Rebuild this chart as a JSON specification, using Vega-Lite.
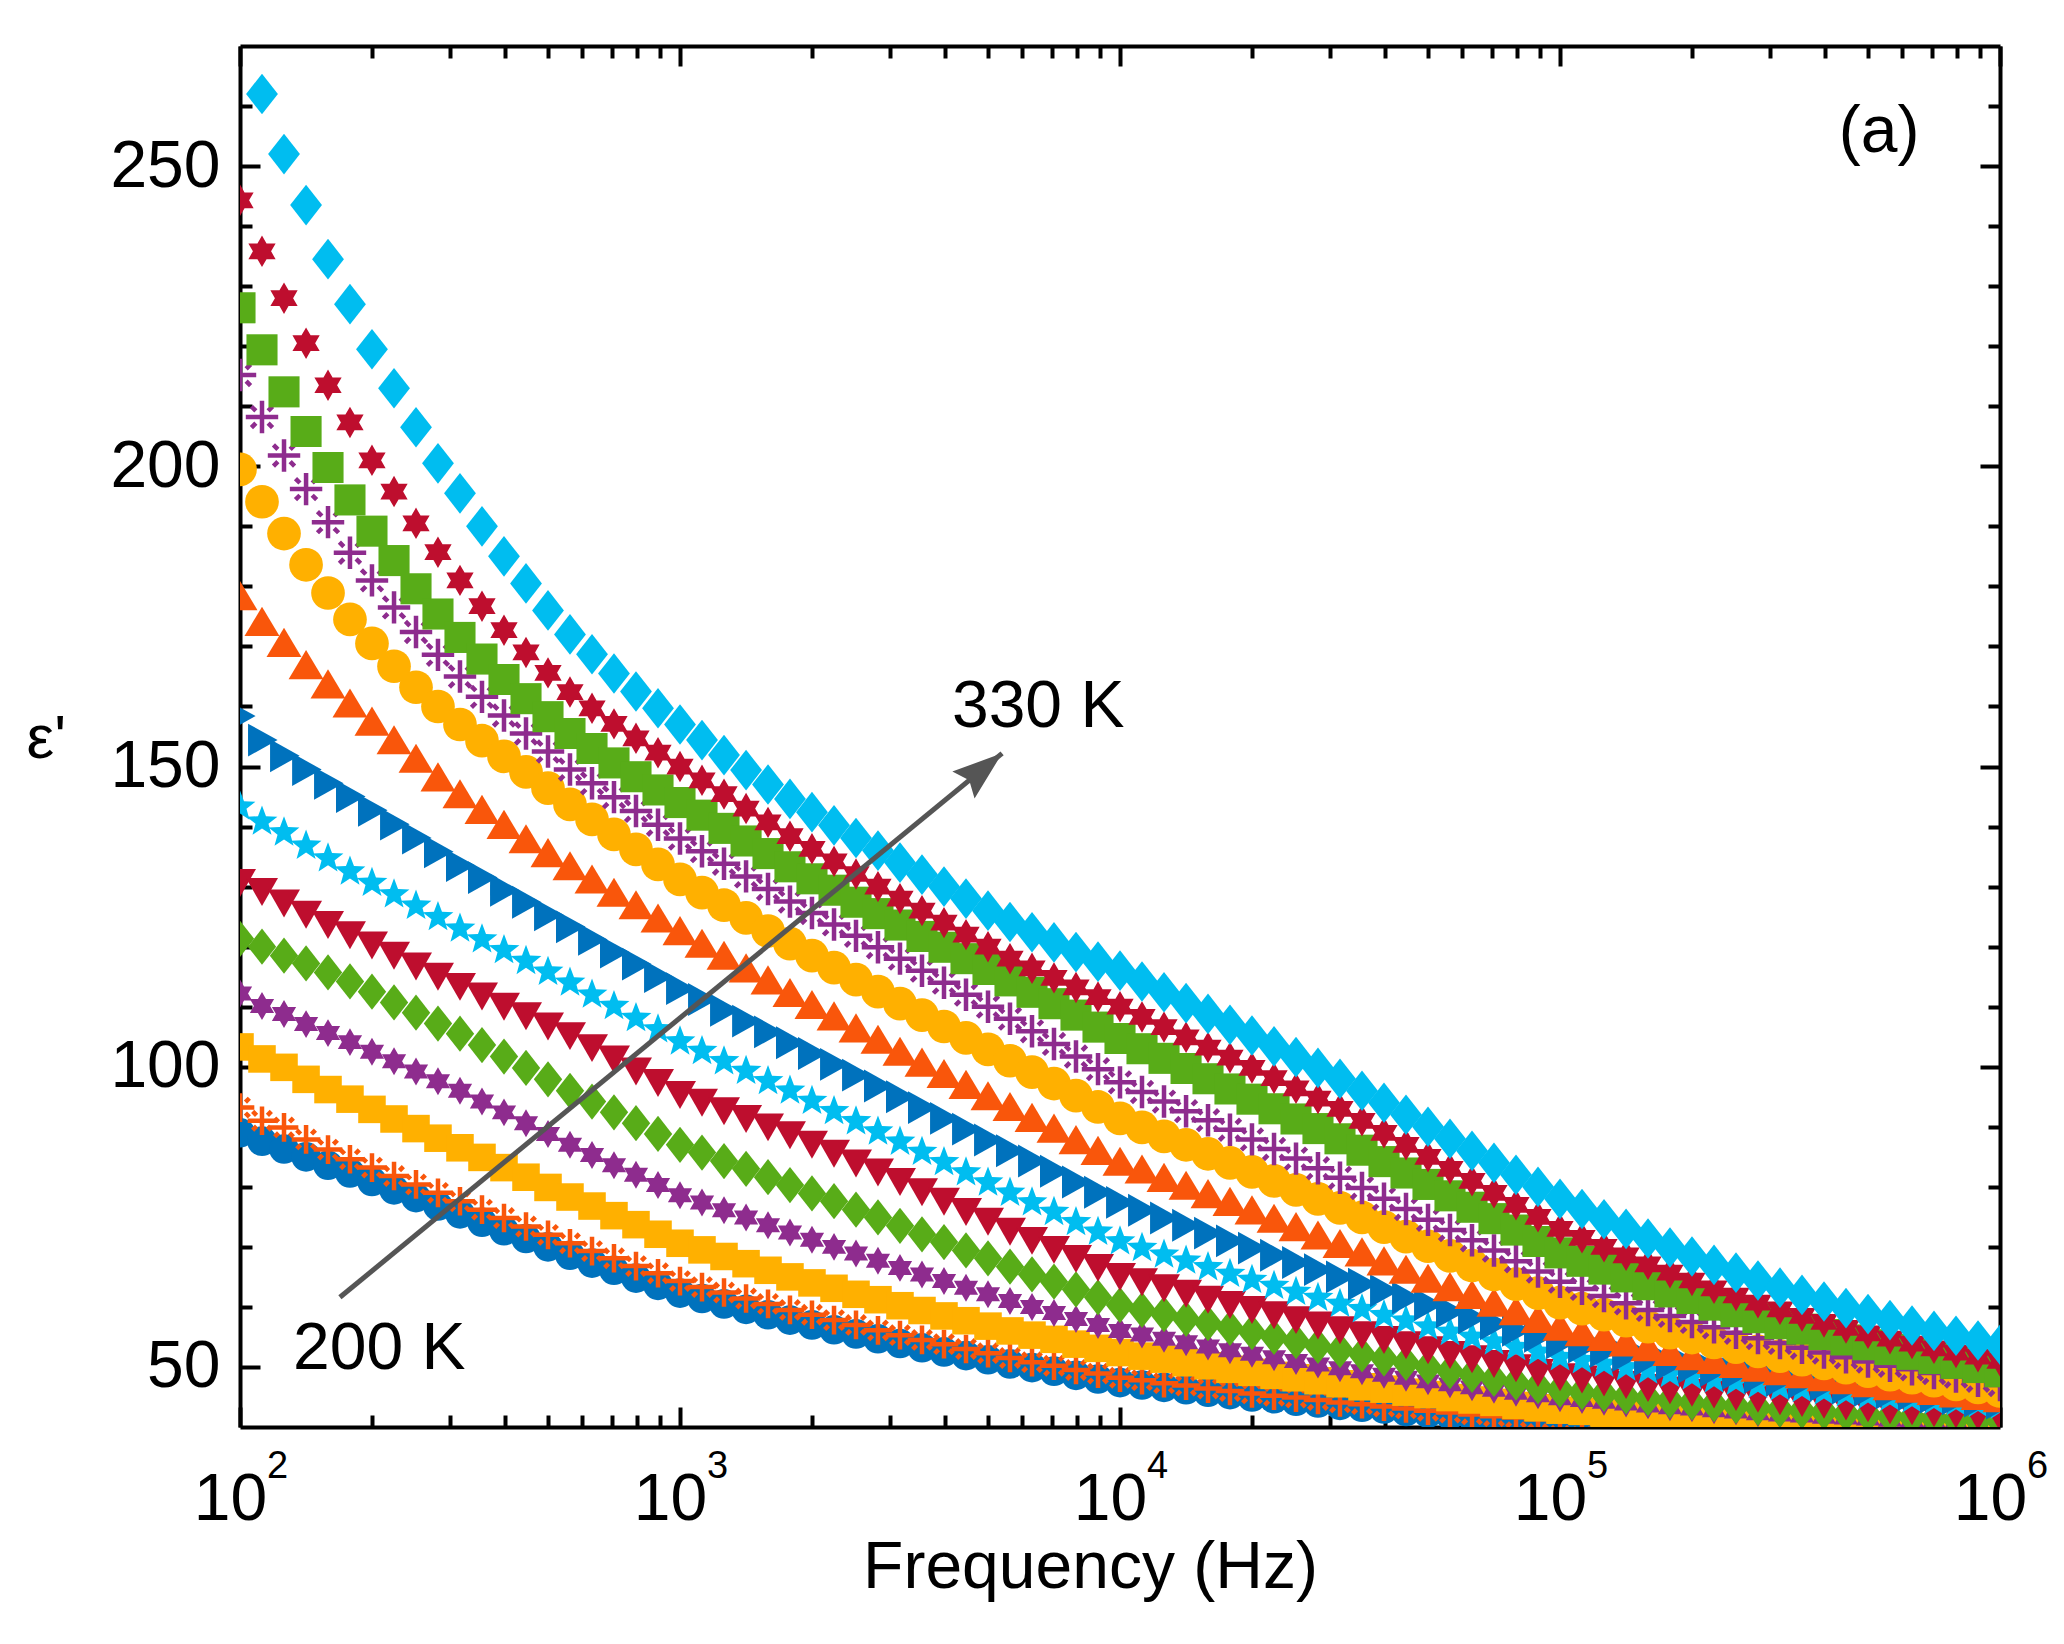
{
"$schema": "https://vega.github.io/schema/vega-lite/v6.json",
"width": 1760,
"height": 1381,
"autosize": {"type": "none"},
"padding": {"left": 240, "top": 46, "right": 64, "bottom": 217},
"background": "white",
"config": {"view": {"stroke": null}, "font": "Liberation Sans", "axis": {"grid": false}},
"resolve": {"axis": {"x": "independent", "y": "independent"}},
"layer": [
{
"data": {"values": [
{"T":200,"f":100,"e":89},{"T":200,"f":112.2,"e":87.6},{"T":200,"f":125.9,"e":86.3},{"T":200,"f":141.3,"e":85},{"T":200,"f":158.5,"e":83.6},{"T":200,"f":177.8,"e":82.3},{"T":200,"f":199.5,"e":80.9},{"T":200,"f":223.9,"e":79.5},{"T":200,"f":251.2,"e":78.2},{"T":200,"f":281.8,"e":76.8},{"T":200,"f":316.2,"e":75.5},{"T":200,"f":354.8,"e":74.1},{"T":200,"f":398.1,"e":72.7},{"T":200,"f":446.7,"e":71.4},{"T":200,"f":501.2,"e":70},{"T":200,"f":562.3,"e":68.6},{"T":200,"f":631,"e":67.3},{"T":200,"f":707.9,"e":66.1},{"T":200,"f":794.3,"e":64.8},{"T":200,"f":891.3,"e":63.6},
{"T":200,"f":1000,"e":62.3},{"T":200,"f":1122,"e":61.4},{"T":200,"f":1259,"e":60.5},{"T":200,"f":1413,"e":59.6},{"T":200,"f":1585,"e":58.7},{"T":200,"f":1778,"e":57.8},{"T":200,"f":1995,"e":57},{"T":200,"f":2239,"e":56.2},{"T":200,"f":2512,"e":55.5},{"T":200,"f":2818,"e":54.7},{"T":200,"f":3162,"e":53.9},{"T":200,"f":3548,"e":53.2},{"T":200,"f":3981,"e":52.5},{"T":200,"f":4467,"e":51.9},{"T":200,"f":5012,"e":51.2},{"T":200,"f":5623,"e":50.5},{"T":200,"f":6310,"e":49.9},{"T":200,"f":7079,"e":49.3},{"T":200,"f":7943,"e":48.6},{"T":200,"f":8913,"e":48},
{"T":200,"f":10000,"e":47.4},{"T":200,"f":11220,"e":47},{"T":200,"f":12590,"e":46.6},{"T":200,"f":14130,"e":46.2},{"T":200,"f":15850,"e":45.8},{"T":200,"f":17780,"e":45.4},{"T":200,"f":19950,"e":45},{"T":200,"f":22390,"e":44.7},{"T":200,"f":25120,"e":44.3},{"T":200,"f":28180,"e":44},{"T":200,"f":31620,"e":43.6},{"T":200,"f":35480,"e":43.3},{"T":200,"f":39810,"e":43},{"T":200,"f":44670,"e":42.6},{"T":200,"f":50120,"e":42.3},{"T":200,"f":56230,"e":42},{"T":200,"f":63100,"e":41.7},{"T":200,"f":70790,"e":41.4},{"T":200,"f":79430,"e":41.2},{"T":200,"f":89130,"e":40.9},
{"T":200,"f":100000,"e":40.6},{"T":200,"f":112200,"e":40.4},{"T":200,"f":125900,"e":40.2},{"T":200,"f":141300,"e":40},{"T":200,"f":158500,"e":39.8},{"T":200,"f":177800,"e":39.6},{"T":200,"f":199500,"e":39.4},{"T":200,"f":223900,"e":39.3},{"T":200,"f":251200,"e":39.1},{"T":200,"f":281800,"e":39},{"T":200,"f":316200,"e":38.8},{"T":200,"f":354800,"e":38.7},{"T":200,"f":398100,"e":38.6},{"T":200,"f":446700,"e":38.4},{"T":200,"f":501200,"e":38.3},{"T":200,"f":562300,"e":38.2},{"T":200,"f":631000,"e":38.1},{"T":200,"f":707900,"e":38},{"T":200,"f":794300,"e":37.9},{"T":200,"f":891300,"e":37.8},{"T":200,"f":1000000,"e":37.7},
{"T":210,"f":100,"e":93.2},{"T":210,"f":112.2,"e":91},{"T":210,"f":125.9,"e":89.9},{"T":210,"f":141.3,"e":87.9},{"T":210,"f":158.5,"e":86.2},{"T":210,"f":177.8,"e":84.6},{"T":210,"f":199.5,"e":83.2},{"T":210,"f":223.9,"e":81.8},{"T":210,"f":251.2,"e":80.4},{"T":210,"f":281.8,"e":79},{"T":210,"f":316.2,"e":77.6},{"T":210,"f":354.8,"e":76.2},{"T":210,"f":398.1,"e":74.8},{"T":210,"f":446.7,"e":73.4},{"T":210,"f":501.2,"e":72},{"T":210,"f":562.3,"e":70.6},{"T":210,"f":631,"e":69.3},{"T":210,"f":707.9,"e":68.1},{"T":210,"f":794.3,"e":66.8},{"T":210,"f":891.3,"e":65.6},
{"T":210,"f":1000,"e":64.3},{"T":210,"f":1122,"e":63.3},{"T":210,"f":1259,"e":62.4},{"T":210,"f":1413,"e":61.4},{"T":210,"f":1585,"e":60.5},{"T":210,"f":1778,"e":59.5},{"T":210,"f":1995,"e":58.7},{"T":210,"f":2239,"e":57.8},{"T":210,"f":2512,"e":57},{"T":210,"f":2818,"e":56.1},{"T":210,"f":3162,"e":55.3},{"T":210,"f":3548,"e":54.5},{"T":210,"f":3981,"e":53.8},{"T":210,"f":4467,"e":53},{"T":210,"f":5012,"e":52.3},{"T":210,"f":5623,"e":51.5},{"T":210,"f":6310,"e":50.8},{"T":210,"f":7079,"e":50.2},{"T":210,"f":7943,"e":49.5},{"T":210,"f":8913,"e":48.9},
{"T":210,"f":10000,"e":48.2},{"T":210,"f":11220,"e":47.8},{"T":210,"f":12590,"e":47.3},{"T":210,"f":14130,"e":46.9},{"T":210,"f":15850,"e":46.4},{"T":210,"f":17780,"e":46},{"T":210,"f":19950,"e":45.6},{"T":210,"f":22390,"e":45.2},{"T":210,"f":25120,"e":44.9},{"T":210,"f":28180,"e":44.5},{"T":210,"f":31620,"e":44.1},{"T":210,"f":35480,"e":43.8},{"T":210,"f":39810,"e":43.4},{"T":210,"f":44670,"e":43.1},{"T":210,"f":50120,"e":42.7},{"T":210,"f":56230,"e":42.4},{"T":210,"f":63100,"e":42.1},{"T":210,"f":70790,"e":41.8},{"T":210,"f":79430,"e":41.6},{"T":210,"f":89130,"e":41.3},
{"T":210,"f":100000,"e":41},{"T":210,"f":112200,"e":40.8},{"T":210,"f":125900,"e":40.6},{"T":210,"f":141300,"e":40.4},{"T":210,"f":158500,"e":40.2},{"T":210,"f":177800,"e":40},{"T":210,"f":199500,"e":39.8},{"T":210,"f":223900,"e":39.7},{"T":210,"f":251200,"e":39.5},{"T":210,"f":281800,"e":39.4},{"T":210,"f":316200,"e":39.2},{"T":210,"f":354800,"e":39.1},{"T":210,"f":398100,"e":39},{"T":210,"f":446700,"e":38.8},{"T":210,"f":501200,"e":38.7},{"T":210,"f":562300,"e":38.6},{"T":210,"f":631000,"e":38.5},{"T":210,"f":707900,"e":38.4},{"T":210,"f":794300,"e":38.3},{"T":210,"f":891300,"e":38.2},{"T":210,"f":1000000,"e":38.1},
{"T":220,"f":100,"e":103.3},{"T":220,"f":112.2,"e":101.3},{"T":220,"f":125.9,"e":99.9},{"T":220,"f":141.3,"e":97.9},{"T":220,"f":158.5,"e":96.2},{"T":220,"f":177.8,"e":94.6},{"T":220,"f":199.5,"e":92.9},{"T":220,"f":223.9,"e":91.3},{"T":220,"f":251.2,"e":89.7},{"T":220,"f":281.8,"e":88.1},{"T":220,"f":316.2,"e":86.5},{"T":220,"f":354.8,"e":84.9},{"T":220,"f":398.1,"e":83.2},{"T":220,"f":446.7,"e":81.6},{"T":220,"f":501.2,"e":79.9},{"T":220,"f":562.3,"e":78.3},{"T":220,"f":631,"e":76.8},{"T":220,"f":707.9,"e":75.2},{"T":220,"f":794.3,"e":73.7},{"T":220,"f":891.3,"e":72.1},
{"T":220,"f":1000,"e":70.6},{"T":220,"f":1122,"e":69.5},{"T":220,"f":1259,"e":68.4},{"T":220,"f":1413,"e":67.2},{"T":220,"f":1585,"e":66.1},{"T":220,"f":1778,"e":65},{"T":220,"f":1995,"e":64},{"T":220,"f":2239,"e":63.1},{"T":220,"f":2512,"e":62.1},{"T":220,"f":2818,"e":61.2},{"T":220,"f":3162,"e":60.2},{"T":220,"f":3548,"e":59.4},{"T":220,"f":3981,"e":58.5},{"T":220,"f":4467,"e":57.7},{"T":220,"f":5012,"e":56.8},{"T":220,"f":5623,"e":56},{"T":220,"f":6310,"e":55.3},{"T":220,"f":7079,"e":54.6},{"T":220,"f":7943,"e":53.8},{"T":220,"f":8913,"e":53.1},
{"T":220,"f":10000,"e":52.4},{"T":220,"f":11220,"e":51.8},{"T":220,"f":12590,"e":51.3},{"T":220,"f":14130,"e":50.7},{"T":220,"f":15850,"e":50.2},{"T":220,"f":17780,"e":49.6},{"T":220,"f":19950,"e":49.1},{"T":220,"f":22390,"e":48.6},{"T":220,"f":25120,"e":48.2},{"T":220,"f":28180,"e":47.7},{"T":220,"f":31620,"e":47.2},{"T":220,"f":35480,"e":46.7},{"T":220,"f":39810,"e":46.3},{"T":220,"f":44670,"e":45.8},{"T":220,"f":50120,"e":45.4},{"T":220,"f":56230,"e":44.9},{"T":220,"f":63100,"e":44.5},{"T":220,"f":70790,"e":44.1},{"T":220,"f":79430,"e":43.6},{"T":220,"f":89130,"e":43.2},
{"T":220,"f":100000,"e":42.8},{"T":220,"f":112200,"e":42.6},{"T":220,"f":125900,"e":42.3},{"T":220,"f":141300,"e":42.1},{"T":220,"f":158500,"e":41.8},{"T":220,"f":177800,"e":41.6},{"T":220,"f":199500,"e":41.4},{"T":220,"f":223900,"e":41.2},{"T":220,"f":251200,"e":41.1},{"T":220,"f":281800,"e":40.9},{"T":220,"f":316200,"e":40.7},{"T":220,"f":354800,"e":40.6},{"T":220,"f":398100,"e":40.5},{"T":220,"f":446700,"e":40.3},{"T":220,"f":501200,"e":40.2},{"T":220,"f":562300,"e":40.1},{"T":220,"f":631000,"e":40},{"T":220,"f":707900,"e":39.9},{"T":220,"f":794300,"e":39.8},{"T":220,"f":891300,"e":39.7},{"T":220,"f":1000000,"e":39.6},
{"T":230,"f":100,"e":112.2},{"T":230,"f":112.2,"e":110.1},{"T":230,"f":125.9,"e":108.8},{"T":230,"f":141.3,"e":107.1},{"T":230,"f":158.5,"e":105.6},{"T":230,"f":177.8,"e":104.1},{"T":230,"f":199.5,"e":102.5},{"T":230,"f":223.9,"e":100.9},{"T":230,"f":251.2,"e":99.2},{"T":230,"f":281.8,"e":97.6},{"T":230,"f":316.2,"e":96},{"T":230,"f":354.8,"e":94.2},{"T":230,"f":398.1,"e":92.4},{"T":230,"f":446.7,"e":90.6},{"T":230,"f":501.2,"e":88.8},{"T":230,"f":562.3,"e":87},{"T":230,"f":631,"e":85.3},{"T":230,"f":707.9,"e":83.6},{"T":230,"f":794.3,"e":82},{"T":230,"f":891.3,"e":80.3},
{"T":230,"f":1000,"e":78.6},{"T":230,"f":1122,"e":77.4},{"T":230,"f":1259,"e":76.1},{"T":230,"f":1413,"e":74.9},{"T":230,"f":1585,"e":73.6},{"T":230,"f":1778,"e":72.4},{"T":230,"f":1995,"e":71.2},{"T":230,"f":2239,"e":70},{"T":230,"f":2512,"e":68.9},{"T":230,"f":2818,"e":67.7},{"T":230,"f":3162,"e":66.5},{"T":230,"f":3548,"e":65.4},{"T":230,"f":3981,"e":64.3},{"T":230,"f":4467,"e":63.2},{"T":230,"f":5012,"e":62.1},{"T":230,"f":5623,"e":61},{"T":230,"f":6310,"e":60},{"T":230,"f":7079,"e":59},{"T":230,"f":7943,"e":58},{"T":230,"f":8913,"e":57},
{"T":230,"f":10000,"e":56},{"T":230,"f":11220,"e":55.4},{"T":230,"f":12590,"e":54.7},{"T":230,"f":14130,"e":54.1},{"T":230,"f":15850,"e":53.4},{"T":230,"f":17780,"e":52.8},{"T":230,"f":19950,"e":52.2},{"T":230,"f":22390,"e":51.6},{"T":230,"f":25120,"e":51},{"T":230,"f":28180,"e":50.4},{"T":230,"f":31620,"e":49.8},{"T":230,"f":35480,"e":49.3},{"T":230,"f":39810,"e":48.7},{"T":230,"f":44670,"e":48.2},{"T":230,"f":50120,"e":47.6},{"T":230,"f":56230,"e":47.1},{"T":230,"f":63100,"e":46.6},{"T":230,"f":70790,"e":46.2},{"T":230,"f":79430,"e":45.7},{"T":230,"f":89130,"e":45.3},
{"T":230,"f":100000,"e":44.8},{"T":230,"f":112200,"e":44.5},{"T":230,"f":125900,"e":44.2},{"T":230,"f":141300,"e":43.9},{"T":230,"f":158500,"e":43.6},{"T":230,"f":177800,"e":43.3},{"T":230,"f":199500,"e":43.1},{"T":230,"f":223900,"e":42.8},{"T":230,"f":251200,"e":42.6},{"T":230,"f":281800,"e":42.3},{"T":230,"f":316200,"e":42.1},{"T":230,"f":354800,"e":41.9},{"T":230,"f":398100,"e":41.7},{"T":230,"f":446700,"e":41.6},{"T":230,"f":501200,"e":41.4},{"T":230,"f":562300,"e":41.2},{"T":230,"f":631000,"e":41.1},{"T":230,"f":707900,"e":40.9},{"T":230,"f":794300,"e":40.8},{"T":230,"f":891300,"e":40.6},{"T":230,"f":1000000,"e":40.5},
{"T":240,"f":100,"e":121.3},{"T":240,"f":112.2,"e":120},{"T":240,"f":125.9,"e":118.5},{"T":240,"f":141.3,"e":117.2},{"T":240,"f":158.5,"e":115.7},{"T":240,"f":177.8,"e":114.2},{"T":240,"f":199.5,"e":112.5},{"T":240,"f":223.9,"e":110.7},{"T":240,"f":251.2,"e":109},{"T":240,"f":281.8,"e":107.2},{"T":240,"f":316.2,"e":105.5},{"T":240,"f":354.8,"e":103.6},{"T":240,"f":398.1,"e":101.7},{"T":240,"f":446.7,"e":99.8},{"T":240,"f":501.2,"e":97.9},{"T":240,"f":562.3,"e":96},{"T":240,"f":631,"e":94.2},{"T":240,"f":707.9,"e":92.4},{"T":240,"f":794.3,"e":90.6},{"T":240,"f":891.3,"e":88.8},
{"T":240,"f":1000,"e":87},{"T":240,"f":1122,"e":85.7},{"T":240,"f":1259,"e":84.3},{"T":240,"f":1413,"e":83},{"T":240,"f":1585,"e":81.6},{"T":240,"f":1778,"e":80.3},{"T":240,"f":1995,"e":78.9},{"T":240,"f":2239,"e":77.6},{"T":240,"f":2512,"e":76.2},{"T":240,"f":2818,"e":74.9},{"T":240,"f":3162,"e":73.5},{"T":240,"f":3548,"e":72.1},{"T":240,"f":3981,"e":70.8},{"T":240,"f":4467,"e":69.4},{"T":240,"f":5012,"e":68.1},{"T":240,"f":5623,"e":66.7},{"T":240,"f":6310,"e":65.4},{"T":240,"f":7079,"e":64.2},{"T":240,"f":7943,"e":62.9},{"T":240,"f":8913,"e":61.6},
{"T":240,"f":10000,"e":60.3},{"T":240,"f":11220,"e":59.5},{"T":240,"f":12590,"e":58.8},{"T":240,"f":14130,"e":58},{"T":240,"f":15850,"e":57.3},{"T":240,"f":17780,"e":56.5},{"T":240,"f":19950,"e":55.8},{"T":240,"f":22390,"e":55},{"T":240,"f":25120,"e":54.3},{"T":240,"f":28180,"e":53.5},{"T":240,"f":31620,"e":52.8},{"T":240,"f":35480,"e":52.1},{"T":240,"f":39810,"e":51.4},{"T":240,"f":44670,"e":50.7},{"T":240,"f":50120,"e":50},{"T":240,"f":56230,"e":49.3},{"T":240,"f":63100,"e":48.7},{"T":240,"f":70790,"e":48},{"T":240,"f":79430,"e":47.4},{"T":240,"f":89130,"e":46.8},
{"T":240,"f":100000,"e":46.2},{"T":240,"f":112200,"e":45.8},{"T":240,"f":125900,"e":45.5},{"T":240,"f":141300,"e":45.1},{"T":240,"f":158500,"e":44.8},{"T":240,"f":177800,"e":44.4},{"T":240,"f":199500,"e":44.1},{"T":240,"f":223900,"e":43.8},{"T":240,"f":251200,"e":43.5},{"T":240,"f":281800,"e":43.2},{"T":240,"f":316200,"e":42.9},{"T":240,"f":354800,"e":42.7},{"T":240,"f":398100,"e":42.5},{"T":240,"f":446700,"e":42.2},{"T":240,"f":501200,"e":42},{"T":240,"f":562300,"e":41.8},{"T":240,"f":631000,"e":41.6},{"T":240,"f":707900,"e":41.4},{"T":240,"f":794300,"e":41.3},{"T":240,"f":891300,"e":41.1},{"T":240,"f":1000000,"e":40.9},
{"T":250,"f":100,"e":130.8},{"T":250,"f":112.2,"e":129.3},{"T":250,"f":125.9,"e":127.4},{"T":250,"f":141.3,"e":125.5},{"T":250,"f":158.5,"e":123.8},{"T":250,"f":177.8,"e":122.1},{"T":250,"f":199.5,"e":120.4},{"T":250,"f":223.9,"e":118.7},{"T":250,"f":251.2,"e":116.9},{"T":250,"f":281.8,"e":115.2},{"T":250,"f":316.2,"e":113.5},{"T":250,"f":354.8,"e":111.9},{"T":250,"f":398.1,"e":110.2},{"T":250,"f":446.7,"e":108.6},{"T":250,"f":501.2,"e":106.9},{"T":250,"f":562.3,"e":105.3},{"T":250,"f":631,"e":103.3},{"T":250,"f":707.9,"e":101.4},{"T":250,"f":794.3,"e":99.4},{"T":250,"f":891.3,"e":97.5},
{"T":250,"f":1000,"e":95.5},{"T":250,"f":1122,"e":94.2},{"T":250,"f":1259,"e":92.8},{"T":250,"f":1413,"e":91.5},{"T":250,"f":1585,"e":90.1},{"T":250,"f":1778,"e":88.8},{"T":250,"f":1995,"e":87.2},{"T":250,"f":2239,"e":85.7},{"T":250,"f":2512,"e":84.1},{"T":250,"f":2818,"e":82.6},{"T":250,"f":3162,"e":81},{"T":250,"f":3548,"e":79.3},{"T":250,"f":3981,"e":77.7},{"T":250,"f":4467,"e":76},{"T":250,"f":5012,"e":74.4},{"T":250,"f":5623,"e":72.7},{"T":250,"f":6310,"e":71.2},{"T":250,"f":7079,"e":69.7},{"T":250,"f":7943,"e":68.2},{"T":250,"f":8913,"e":66.7},
{"T":250,"f":10000,"e":65.2},{"T":250,"f":11220,"e":64.3},{"T":250,"f":12590,"e":63.3},{"T":250,"f":14130,"e":62.4},{"T":250,"f":15850,"e":61.4},{"T":250,"f":17780,"e":60.5},{"T":250,"f":19950,"e":59.7},{"T":250,"f":22390,"e":58.8},{"T":250,"f":25120,"e":58},{"T":250,"f":28180,"e":57.1},{"T":250,"f":31620,"e":56.3},{"T":250,"f":35480,"e":55.5},{"T":250,"f":39810,"e":54.7},{"T":250,"f":44670,"e":53.8},{"T":250,"f":50120,"e":53},{"T":250,"f":56230,"e":52.2},{"T":250,"f":63100,"e":51.5},{"T":250,"f":70790,"e":50.7},{"T":250,"f":79430,"e":50},{"T":250,"f":89130,"e":49.2},
{"T":250,"f":100000,"e":48.5},{"T":250,"f":112200,"e":48.1},{"T":250,"f":125900,"e":47.6},{"T":250,"f":141300,"e":47.2},{"T":250,"f":158500,"e":46.7},{"T":250,"f":177800,"e":46.3},{"T":250,"f":199500,"e":45.9},{"T":250,"f":223900,"e":45.6},{"T":250,"f":251200,"e":45.2},{"T":250,"f":281800,"e":44.9},{"T":250,"f":316200,"e":44.5},{"T":250,"f":354800,"e":44.2},{"T":250,"f":398100,"e":43.9},{"T":250,"f":446700,"e":43.6},{"T":250,"f":501200,"e":43.3},{"T":250,"f":562300,"e":43},{"T":250,"f":631000,"e":42.8},{"T":250,"f":707900,"e":42.5},{"T":250,"f":794300,"e":42.3},{"T":250,"f":891300,"e":42},{"T":250,"f":1000000,"e":41.8},
{"T":260,"f":100,"e":143.3},{"T":260,"f":112.2,"e":140.8},{"T":260,"f":125.9,"e":139},{"T":260,"f":141.3,"e":136.8},{"T":260,"f":158.5,"e":134.7},{"T":260,"f":177.8,"e":132.5},{"T":260,"f":199.5,"e":130.6},{"T":260,"f":223.9,"e":128.7},{"T":260,"f":251.2,"e":126.8},{"T":260,"f":281.8,"e":124.9},{"T":260,"f":316.2,"e":123},{"T":260,"f":354.8,"e":121.2},{"T":260,"f":398.1,"e":119.4},{"T":260,"f":446.7,"e":117.6},{"T":260,"f":501.2,"e":115.8},{"T":260,"f":562.3,"e":114},{"T":260,"f":631,"e":112},{"T":260,"f":707.9,"e":110.1},{"T":260,"f":794.3,"e":108.1},{"T":260,"f":891.3,"e":106.2},
{"T":260,"f":1000,"e":104.2},{"T":260,"f":1122,"e":102.6},{"T":260,"f":1259,"e":100.9},{"T":260,"f":1413,"e":99.3},{"T":260,"f":1585,"e":97.6},{"T":260,"f":1778,"e":96},{"T":260,"f":1995,"e":94.3},{"T":260,"f":2239,"e":92.6},{"T":260,"f":2512,"e":90.9},{"T":260,"f":2818,"e":89.2},{"T":260,"f":3162,"e":87.5},{"T":260,"f":3548,"e":85.8},{"T":260,"f":3981,"e":84.1},{"T":260,"f":4467,"e":82.4},{"T":260,"f":5012,"e":80.7},{"T":260,"f":5623,"e":79},{"T":260,"f":6310,"e":77.4},{"T":260,"f":7079,"e":75.8},{"T":260,"f":7943,"e":74.1},{"T":260,"f":8913,"e":72.5},
{"T":260,"f":10000,"e":70.9},{"T":260,"f":11220,"e":69.8},{"T":260,"f":12590,"e":68.7},{"T":260,"f":14130,"e":67.7},{"T":260,"f":15850,"e":66.6},{"T":260,"f":17780,"e":65.5},{"T":260,"f":19950,"e":64.5},{"T":260,"f":22390,"e":63.5},{"T":260,"f":25120,"e":62.5},{"T":260,"f":28180,"e":61.5},{"T":260,"f":31620,"e":60.5},{"T":260,"f":35480,"e":59.6},{"T":260,"f":39810,"e":58.6},{"T":260,"f":44670,"e":57.7},{"T":260,"f":50120,"e":56.7},{"T":260,"f":56230,"e":55.8},{"T":260,"f":63100,"e":55},{"T":260,"f":70790,"e":54.2},{"T":260,"f":79430,"e":53.3},{"T":260,"f":89130,"e":52.5},
{"T":260,"f":100000,"e":51.6},{"T":260,"f":112200,"e":51.1},{"T":260,"f":125900,"e":50.5},{"T":260,"f":141300,"e":49.9},{"T":260,"f":158500,"e":49.4},{"T":260,"f":177800,"e":48.8},{"T":260,"f":199500,"e":48.4},{"T":260,"f":223900,"e":47.9},{"T":260,"f":251200,"e":47.5},{"T":260,"f":281800,"e":47},{"T":260,"f":316200,"e":46.6},{"T":260,"f":354800,"e":46.3},{"T":260,"f":398100,"e":45.9},{"T":260,"f":446700,"e":45.6},{"T":260,"f":501200,"e":45.2},{"T":260,"f":562300,"e":44.9},{"T":260,"f":631000,"e":44.6},{"T":260,"f":707900,"e":44.3},{"T":260,"f":794300,"e":44.1},{"T":260,"f":891300,"e":43.8},{"T":260,"f":1000000,"e":43.5},
{"T":270,"f":100,"e":158.4},{"T":270,"f":112.2,"e":154.4},{"T":270,"f":125.9,"e":151.8},{"T":270,"f":141.3,"e":149.5},{"T":270,"f":158.5,"e":147.2},{"T":270,"f":177.8,"e":145},{"T":270,"f":199.5,"e":142.7},{"T":270,"f":223.9,"e":140.4},{"T":270,"f":251.2,"e":138.1},{"T":270,"f":281.8,"e":135.8},{"T":270,"f":316.2,"e":133.5},{"T":270,"f":354.8,"e":131.5},{"T":270,"f":398.1,"e":129.4},{"T":270,"f":446.7,"e":127.4},{"T":270,"f":501.2,"e":125.3},{"T":270,"f":562.3,"e":123.3},{"T":270,"f":631,"e":121.2},{"T":270,"f":707.9,"e":119.1},{"T":270,"f":794.3,"e":117.1},{"T":270,"f":891.3,"e":115},
{"T":270,"f":1000,"e":113},{"T":270,"f":1122,"e":111.2},{"T":270,"f":1259,"e":109.4},{"T":270,"f":1413,"e":107.6},{"T":270,"f":1585,"e":105.8},{"T":270,"f":1778,"e":104},{"T":270,"f":1995,"e":102.2},{"T":270,"f":2239,"e":100.4},{"T":270,"f":2512,"e":98.6},{"T":270,"f":2818,"e":96.8},{"T":270,"f":3162,"e":95},{"T":270,"f":3548,"e":93.2},{"T":270,"f":3981,"e":91.4},{"T":270,"f":4467,"e":89.6},{"T":270,"f":5012,"e":87.8},{"T":270,"f":5623,"e":86},{"T":270,"f":6310,"e":84.3},{"T":270,"f":7079,"e":82.6},{"T":270,"f":7943,"e":80.8},{"T":270,"f":8913,"e":79.1},
{"T":270,"f":10000,"e":77.4},{"T":270,"f":11220,"e":76.1},{"T":270,"f":12590,"e":74.8},{"T":270,"f":14130,"e":73.6},{"T":270,"f":15850,"e":72.3},{"T":270,"f":17780,"e":71},{"T":270,"f":19950,"e":69.8},{"T":270,"f":22390,"e":68.6},{"T":270,"f":25120,"e":67.4},{"T":270,"f":28180,"e":66.2},{"T":270,"f":31620,"e":65},{"T":270,"f":35480,"e":63.8},{"T":270,"f":39810,"e":62.7},{"T":270,"f":44670,"e":61.5},{"T":270,"f":50120,"e":60.4},{"T":270,"f":56230,"e":59.2},{"T":270,"f":63100,"e":58.2},{"T":270,"f":70790,"e":57.2},{"T":270,"f":79430,"e":56.1},{"T":270,"f":89130,"e":55.1},
{"T":270,"f":100000,"e":54},{"T":270,"f":112200,"e":53.3},{"T":270,"f":125900,"e":52.6},{"T":270,"f":141300,"e":51.9},{"T":270,"f":158500,"e":51.2},{"T":270,"f":177800,"e":50.5},{"T":270,"f":199500,"e":50},{"T":270,"f":223900,"e":49.4},{"T":270,"f":251200,"e":48.9},{"T":270,"f":281800,"e":48.3},{"T":270,"f":316200,"e":47.8},{"T":270,"f":354800,"e":47.4},{"T":270,"f":398100,"e":47},{"T":270,"f":446700,"e":46.5},{"T":270,"f":501200,"e":46.1},{"T":270,"f":562300,"e":45.7},{"T":270,"f":631000,"e":45.4},{"T":270,"f":707900,"e":45},{"T":270,"f":794300,"e":44.7},{"T":270,"f":891300,"e":44.3},{"T":270,"f":1000000,"e":44},
{"T":280,"f":100,"e":178.4},{"T":280,"f":112.2,"e":174.1},{"T":280,"f":125.9,"e":170.6},{"T":280,"f":141.3,"e":166.9},{"T":280,"f":158.5,"e":163.7},{"T":280,"f":177.8,"e":160.5},{"T":280,"f":199.5,"e":157.5},{"T":280,"f":223.9,"e":154.4},{"T":280,"f":251.2,"e":151.3},{"T":280,"f":281.8,"e":148.2},{"T":280,"f":316.2,"e":145.4},{"T":280,"f":354.8,"e":142.8},{"T":280,"f":398.1,"e":140.3},{"T":280,"f":446.7,"e":137.9},{"T":280,"f":501.2,"e":135.6},{"T":280,"f":562.3,"e":133.4},{"T":280,"f":631,"e":131.2},{"T":280,"f":707.9,"e":129},{"T":280,"f":794.3,"e":126.9},{"T":280,"f":891.3,"e":124.7},
{"T":280,"f":1000,"e":122.6},{"T":280,"f":1122,"e":120.5},{"T":280,"f":1259,"e":118.5},{"T":280,"f":1413,"e":116.4},{"T":280,"f":1585,"e":114.4},{"T":280,"f":1778,"e":112.3},{"T":280,"f":1995,"e":110.3},{"T":280,"f":2239,"e":108.4},{"T":280,"f":2512,"e":106.4},{"T":280,"f":2818,"e":104.5},{"T":280,"f":3162,"e":102.5},{"T":280,"f":3548,"e":100.7},{"T":280,"f":3981,"e":98.8},{"T":280,"f":4467,"e":97},{"T":280,"f":5012,"e":95.1},{"T":280,"f":5623,"e":93.3},{"T":280,"f":6310,"e":91.5},{"T":280,"f":7079,"e":89.7},{"T":280,"f":7943,"e":87.8},{"T":280,"f":8913,"e":86},
{"T":280,"f":10000,"e":84.2},{"T":280,"f":11220,"e":82.9},{"T":280,"f":12590,"e":81.5},{"T":280,"f":14130,"e":80.2},{"T":280,"f":15850,"e":78.8},{"T":280,"f":17780,"e":77.5},{"T":280,"f":19950,"e":76.1},{"T":280,"f":22390,"e":74.7},{"T":280,"f":25120,"e":73.3},{"T":280,"f":28180,"e":71.9},{"T":280,"f":31620,"e":70.5},{"T":280,"f":35480,"e":69.1},{"T":280,"f":39810,"e":67.6},{"T":280,"f":44670,"e":66.2},{"T":280,"f":50120,"e":64.7},{"T":280,"f":56230,"e":63.3},{"T":280,"f":63100,"e":62},{"T":280,"f":70790,"e":60.7},{"T":280,"f":79430,"e":59.3},{"T":280,"f":89130,"e":58},
{"T":280,"f":100000,"e":56.7},{"T":280,"f":112200,"e":55.8},{"T":280,"f":125900,"e":55},{"T":280,"f":141300,"e":54.1},{"T":280,"f":158500,"e":53.3},{"T":280,"f":177800,"e":52.5},{"T":280,"f":199500,"e":51.8},{"T":280,"f":223900,"e":51.2},{"T":280,"f":251200,"e":50.5},{"T":280,"f":281800,"e":49.9},{"T":280,"f":316200,"e":49.3},{"T":280,"f":354800,"e":48.8},{"T":280,"f":398100,"e":48.3},{"T":280,"f":446700,"e":47.8},{"T":280,"f":501200,"e":47.3},{"T":280,"f":562300,"e":46.8},{"T":280,"f":631000,"e":46.4},{"T":280,"f":707900,"e":46},{"T":280,"f":794300,"e":45.6},{"T":280,"f":891300,"e":45.2},{"T":280,"f":1000000,"e":44.8},
{"T":290,"f":100,"e":199.5},{"T":290,"f":112.2,"e":194.1},{"T":290,"f":125.9,"e":188.8},{"T":290,"f":141.3,"e":183.6},{"T":290,"f":158.5,"e":178.9},{"T":290,"f":177.8,"e":174.5},{"T":290,"f":199.5,"e":170.5},{"T":290,"f":223.9,"e":166.7},{"T":290,"f":251.2,"e":163.2},{"T":290,"f":281.8,"e":160},{"T":290,"f":316.2,"e":157},{"T":290,"f":354.8,"e":154.3},{"T":290,"f":398.1,"e":151.7},{"T":290,"f":446.7,"e":149.1},{"T":290,"f":501.2,"e":146.4},{"T":290,"f":562.3,"e":143.7},{"T":290,"f":631,"e":141.2},{"T":290,"f":707.9,"e":138.7},{"T":290,"f":794.3,"e":136.2},{"T":290,"f":891.3,"e":133.7},
{"T":290,"f":1000,"e":131.2},{"T":290,"f":1122,"e":129},{"T":290,"f":1259,"e":126.9},{"T":290,"f":1413,"e":124.8},{"T":290,"f":1585,"e":122.6},{"T":290,"f":1778,"e":120.5},{"T":290,"f":1995,"e":118.5},{"T":290,"f":2239,"e":116.5},{"T":290,"f":2512,"e":114.5},{"T":290,"f":2818,"e":112.5},{"T":290,"f":3162,"e":110.5},{"T":290,"f":3548,"e":108.6},{"T":290,"f":3981,"e":106.7},{"T":290,"f":4467,"e":104.8},{"T":290,"f":5012,"e":102.9},{"T":290,"f":5623,"e":101},{"T":290,"f":6310,"e":99.1},{"T":290,"f":7079,"e":97.2},{"T":290,"f":7943,"e":95.2},{"T":290,"f":8913,"e":93.3},
{"T":290,"f":10000,"e":91.4},{"T":290,"f":11220,"e":89.9},{"T":290,"f":12590,"e":88.4},{"T":290,"f":14130,"e":87},{"T":290,"f":15850,"e":85.5},{"T":290,"f":17780,"e":84},{"T":290,"f":19950,"e":82.5},{"T":290,"f":22390,"e":81},{"T":290,"f":25120,"e":79.5},{"T":290,"f":28180,"e":78},{"T":290,"f":31620,"e":76.5},{"T":290,"f":35480,"e":74.9},{"T":290,"f":39810,"e":73.3},{"T":290,"f":44670,"e":71.7},{"T":290,"f":50120,"e":70.1},{"T":290,"f":56230,"e":68.5},{"T":290,"f":63100,"e":66.9},{"T":290,"f":70790,"e":65.4},{"T":290,"f":79430,"e":63.8},{"T":290,"f":89130,"e":62.3},
{"T":290,"f":100000,"e":60.7},{"T":290,"f":112200,"e":59.7},{"T":290,"f":125900,"e":58.7},{"T":290,"f":141300,"e":57.7},{"T":290,"f":158500,"e":56.7},{"T":290,"f":177800,"e":55.7},{"T":290,"f":199500,"e":54.9},{"T":290,"f":223900,"e":54.1},{"T":290,"f":251200,"e":53.3},{"T":290,"f":281800,"e":52.6},{"T":290,"f":316200,"e":51.8},{"T":290,"f":354800,"e":51.2},{"T":290,"f":398100,"e":50.6},{"T":290,"f":446700,"e":49.9},{"T":290,"f":501200,"e":49.3},{"T":290,"f":562300,"e":48.7},{"T":290,"f":631000,"e":48.2},{"T":290,"f":707900,"e":47.7},{"T":290,"f":794300,"e":47.1},{"T":290,"f":891300,"e":46.6},{"T":290,"f":1000000,"e":46},
{"T":300,"f":100,"e":215.2},{"T":300,"f":112.2,"e":208.2},{"T":300,"f":125.9,"e":201.8},{"T":300,"f":141.3,"e":196.2},{"T":300,"f":158.5,"e":190.7},{"T":300,"f":177.8,"e":185.6},{"T":300,"f":199.5,"e":181},{"T":300,"f":223.9,"e":176.5},{"T":300,"f":251.2,"e":172.4},{"T":300,"f":281.8,"e":168.6},{"T":300,"f":316.2,"e":165},{"T":300,"f":354.8,"e":161.6},{"T":300,"f":398.1,"e":158.5},{"T":300,"f":446.7,"e":155.5},{"T":300,"f":501.2,"e":152.5},{"T":300,"f":562.3,"e":149.5},{"T":300,"f":631,"e":147.2},{"T":300,"f":707.9,"e":144.9},{"T":300,"f":794.3,"e":142.6},{"T":300,"f":891.3,"e":140.3},
{"T":300,"f":1000,"e":138},{"T":300,"f":1122,"e":135.9},{"T":300,"f":1259,"e":133.8},{"T":300,"f":1413,"e":131.7},{"T":300,"f":1585,"e":129.6},{"T":300,"f":1778,"e":127.5},{"T":300,"f":1995,"e":125.6},{"T":300,"f":2239,"e":123.7},{"T":300,"f":2512,"e":121.8},{"T":300,"f":2818,"e":119.9},{"T":300,"f":3162,"e":118},{"T":300,"f":3548,"e":116},{"T":300,"f":3981,"e":114},{"T":300,"f":4467,"e":112},{"T":300,"f":5012,"e":110},{"T":300,"f":5623,"e":108},{"T":300,"f":6310,"e":105.9},{"T":300,"f":7079,"e":103.8},{"T":300,"f":7943,"e":101.7},{"T":300,"f":8913,"e":99.6},
{"T":300,"f":10000,"e":97.4},{"T":300,"f":11220,"e":95.8},{"T":300,"f":12590,"e":94.2},{"T":300,"f":14130,"e":92.6},{"T":300,"f":15850,"e":91.1},{"T":300,"f":17780,"e":89.5},{"T":300,"f":19950,"e":87.9},{"T":300,"f":22390,"e":86.3},{"T":300,"f":25120,"e":84.7},{"T":300,"f":28180,"e":83.1},{"T":300,"f":31620,"e":81.5},{"T":300,"f":35480,"e":79.8},{"T":300,"f":39810,"e":78},{"T":300,"f":44670,"e":76.3},{"T":300,"f":50120,"e":74.5},{"T":300,"f":56230,"e":72.8},{"T":300,"f":63100,"e":71.1},{"T":300,"f":70790,"e":69.4},{"T":300,"f":79430,"e":67.6},{"T":300,"f":89130,"e":65.9},
{"T":300,"f":100000,"e":64.2},{"T":300,"f":112200,"e":63},{"T":300,"f":125900,"e":61.8},{"T":300,"f":141300,"e":60.6},{"T":300,"f":158500,"e":59.5},{"T":300,"f":177800,"e":58.5},{"T":300,"f":199500,"e":57.5},{"T":300,"f":223900,"e":56.6},{"T":300,"f":251200,"e":55.7},{"T":300,"f":281800,"e":54.8},{"T":300,"f":316200,"e":54},{"T":300,"f":354800,"e":53.2},{"T":300,"f":398100,"e":52.4},{"T":300,"f":446700,"e":51.6},{"T":300,"f":501200,"e":50.9},{"T":300,"f":562300,"e":50.2},{"T":300,"f":631000,"e":49.6},{"T":300,"f":707900,"e":49},{"T":300,"f":794300,"e":48.4},{"T":300,"f":891300,"e":47.7},{"T":300,"f":1000000,"e":47},
{"T":310,"f":100,"e":226.4},{"T":310,"f":112.2,"e":219.4},{"T":310,"f":125.9,"e":212.4},{"T":310,"f":141.3,"e":205.8},{"T":310,"f":158.5,"e":199.8},{"T":310,"f":177.8,"e":194.4},{"T":310,"f":199.5,"e":189.2},{"T":310,"f":223.9,"e":184.3},{"T":310,"f":251.2,"e":179.6},{"T":310,"f":281.8,"e":175.4},{"T":310,"f":316.2,"e":171.5},{"T":310,"f":354.8,"e":167.9},{"T":310,"f":398.1,"e":164.5},{"T":310,"f":446.7,"e":161.3},{"T":310,"f":501.2,"e":158.3},{"T":310,"f":562.3,"e":155.5},{"T":310,"f":631,"e":153},{"T":310,"f":707.9,"e":150.6},{"T":310,"f":794.3,"e":148.3},{"T":310,"f":891.3,"e":146.1},
{"T":310,"f":1000,"e":144},{"T":310,"f":1122,"e":141.9},{"T":310,"f":1259,"e":139.7},{"T":310,"f":1413,"e":137.6},{"T":310,"f":1585,"e":135.5},{"T":310,"f":1778,"e":133.3},{"T":310,"f":1995,"e":131.3},{"T":310,"f":2239,"e":129.4},{"T":310,"f":2512,"e":127.4},{"T":310,"f":2818,"e":125.5},{"T":310,"f":3162,"e":123.6},{"T":310,"f":3548,"e":121.7},{"T":310,"f":3981,"e":119.9},{"T":310,"f":4467,"e":118},{"T":310,"f":5012,"e":116.2},{"T":310,"f":5623,"e":114.3},{"T":310,"f":6310,"e":112.4},{"T":310,"f":7079,"e":110.5},{"T":310,"f":7943,"e":108.6},{"T":310,"f":8913,"e":106.6},
{"T":310,"f":10000,"e":104.7},{"T":310,"f":11220,"e":103},{"T":310,"f":12590,"e":101.4},{"T":310,"f":14130,"e":99.7},{"T":310,"f":15850,"e":98},{"T":310,"f":17780,"e":96.3},{"T":310,"f":19950,"e":94.6},{"T":310,"f":22390,"e":93},{"T":310,"f":25120,"e":91.3},{"T":310,"f":28180,"e":89.7},{"T":310,"f":31620,"e":88},{"T":310,"f":35480,"e":86.1},{"T":310,"f":39810,"e":84.2},{"T":310,"f":44670,"e":82.3},{"T":310,"f":50120,"e":80.4},{"T":310,"f":56230,"e":78.5},{"T":310,"f":63100,"e":76.6},{"T":310,"f":70790,"e":74.7},{"T":310,"f":79430,"e":72.8},{"T":310,"f":89130,"e":70.9},
{"T":310,"f":100000,"e":69},{"T":310,"f":112200,"e":67.6},{"T":310,"f":125900,"e":66.3},{"T":310,"f":141300,"e":65},{"T":310,"f":158500,"e":63.7},{"T":310,"f":177800,"e":62.5},{"T":310,"f":199500,"e":61.4},{"T":310,"f":223900,"e":60.3},{"T":310,"f":251200,"e":59.2},{"T":310,"f":281800,"e":58.2},{"T":310,"f":316200,"e":57.2},{"T":310,"f":354800,"e":56.3},{"T":310,"f":398100,"e":55.4},{"T":310,"f":446700,"e":54.5},{"T":310,"f":501200,"e":53.7},{"T":310,"f":562300,"e":52.9},{"T":310,"f":631000,"e":52.1},{"T":310,"f":707900,"e":51.4},{"T":310,"f":794300,"e":50.6},{"T":310,"f":891300,"e":49.9},{"T":310,"f":1000000,"e":49.2},
{"T":320,"f":100,"e":244.3},{"T":320,"f":112.2,"e":235.8},{"T":320,"f":125.9,"e":228},{"T":320,"f":141.3,"e":220.5},{"T":320,"f":158.5,"e":213.5},{"T":320,"f":177.8,"e":207.3},{"T":320,"f":199.5,"e":201},{"T":320,"f":223.9,"e":195.8},{"T":320,"f":251.2,"e":190.5},{"T":320,"f":281.8,"e":185.7},{"T":320,"f":316.2,"e":181},{"T":320,"f":354.8,"e":176.7},{"T":320,"f":398.1,"e":172.7},{"T":320,"f":446.7,"e":169},{"T":320,"f":501.2,"e":165.6},{"T":320,"f":562.3,"e":162.4},{"T":320,"f":631,"e":159.7},{"T":320,"f":707.9,"e":157.1},{"T":320,"f":794.3,"e":154.7},{"T":320,"f":891.3,"e":152.3},
{"T":320,"f":1000,"e":150},{"T":320,"f":1122,"e":147.7},{"T":320,"f":1259,"e":145.4},{"T":320,"f":1413,"e":143},{"T":320,"f":1585,"e":140.7},{"T":320,"f":1778,"e":138.4},{"T":320,"f":1995,"e":136.3},{"T":320,"f":2239,"e":134.2},{"T":320,"f":2512,"e":132.1},{"T":320,"f":2818,"e":130},{"T":320,"f":3162,"e":128},{"T":320,"f":3548,"e":126},{"T":320,"f":3981,"e":124},{"T":320,"f":4467,"e":122},{"T":320,"f":5012,"e":120},{"T":320,"f":5623,"e":118},{"T":320,"f":6310,"e":116.4},{"T":320,"f":7079,"e":114.8},{"T":320,"f":7943,"e":113.2},{"T":320,"f":8913,"e":111.6},
{"T":320,"f":10000,"e":110},{"T":320,"f":11220,"e":108.3},{"T":320,"f":12590,"e":106.6},{"T":320,"f":14130,"e":104.9},{"T":320,"f":15850,"e":103.2},{"T":320,"f":17780,"e":101.5},{"T":320,"f":19950,"e":99.8},{"T":320,"f":22390,"e":98.1},{"T":320,"f":25120,"e":96.4},{"T":320,"f":28180,"e":94.7},{"T":320,"f":31620,"e":93},{"T":320,"f":35480,"e":91},{"T":320,"f":39810,"e":89},{"T":320,"f":44670,"e":87},{"T":320,"f":50120,"e":85},{"T":320,"f":56230,"e":83},{"T":320,"f":63100,"e":81},{"T":320,"f":70790,"e":79},{"T":320,"f":79430,"e":77},{"T":320,"f":89130,"e":75},
{"T":320,"f":100000,"e":73},{"T":320,"f":112200,"e":71.5},{"T":320,"f":125900,"e":70},{"T":320,"f":141300,"e":68.6},{"T":320,"f":158500,"e":67.1},{"T":320,"f":177800,"e":65.7},{"T":320,"f":199500,"e":64.4},{"T":320,"f":223900,"e":63.1},{"T":320,"f":251200,"e":61.9},{"T":320,"f":281800,"e":60.7},{"T":320,"f":316200,"e":59.6},{"T":320,"f":354800,"e":58.5},{"T":320,"f":398100,"e":57.5},{"T":320,"f":446700,"e":56.5},{"T":320,"f":501200,"e":55.6},{"T":320,"f":562300,"e":54.7},{"T":320,"f":631000,"e":53.9},{"T":320,"f":707900,"e":53.1},{"T":320,"f":794300,"e":52.4},{"T":320,"f":891300,"e":51.7},{"T":320,"f":1000000,"e":51},
{"T":330,"f":100,"e":276},{"T":330,"f":112.2,"e":262},{"T":330,"f":125.9,"e":252},{"T":330,"f":141.3,"e":243.5},{"T":330,"f":158.5,"e":234.5},{"T":330,"f":177.8,"e":227},{"T":330,"f":199.5,"e":219.5},{"T":330,"f":223.9,"e":213},{"T":330,"f":251.2,"e":206.5},{"T":330,"f":281.8,"e":200.5},{"T":330,"f":316.2,"e":195.5},{"T":330,"f":354.8,"e":190},{"T":330,"f":398.1,"e":185},{"T":330,"f":446.7,"e":180.5},{"T":330,"f":501.2,"e":176},{"T":330,"f":562.3,"e":172},{"T":330,"f":631,"e":168.7},{"T":330,"f":707.9,"e":165.5},{"T":330,"f":794.3,"e":162.5},{"T":330,"f":891.3,"e":159.7},
{"T":330,"f":1000,"e":157},{"T":330,"f":1122,"e":154.4},{"T":330,"f":1259,"e":151.9},{"T":330,"f":1413,"e":149.4},{"T":330,"f":1585,"e":147},{"T":330,"f":1778,"e":144.6},{"T":330,"f":1995,"e":142.4},{"T":330,"f":2239,"e":140.2},{"T":330,"f":2512,"e":138.1},{"T":330,"f":2818,"e":136},{"T":330,"f":3162,"e":134},{"T":330,"f":3548,"e":132},{"T":330,"f":3981,"e":130},{"T":330,"f":4467,"e":128},{"T":330,"f":5012,"e":126},{"T":330,"f":5623,"e":124.1},{"T":330,"f":6310,"e":122.4},{"T":330,"f":7079,"e":120.7},{"T":330,"f":7943,"e":119.1},{"T":330,"f":8913,"e":117.5},
{"T":330,"f":10000,"e":116},{"T":330,"f":11220,"e":114.2},{"T":330,"f":12590,"e":112.4},{"T":330,"f":14130,"e":110.6},{"T":330,"f":15850,"e":108.8},{"T":330,"f":17780,"e":107},{"T":330,"f":19950,"e":105.2},{"T":330,"f":22390,"e":103.4},{"T":330,"f":25120,"e":101.6},{"T":330,"f":28180,"e":99.8},{"T":330,"f":31620,"e":98},{"T":330,"f":35480,"e":96},{"T":330,"f":39810,"e":94},{"T":330,"f":44670,"e":92},{"T":330,"f":50120,"e":90},{"T":330,"f":56230,"e":88},{"T":330,"f":63100,"e":86},{"T":330,"f":70790,"e":84},{"T":330,"f":79430,"e":82},{"T":330,"f":89130,"e":80},
{"T":330,"f":100000,"e":78},{"T":330,"f":112200,"e":76.3},{"T":330,"f":125900,"e":74.6},{"T":330,"f":141300,"e":73},{"T":330,"f":158500,"e":71.4},{"T":330,"f":177800,"e":69.9},{"T":330,"f":199500,"e":68.4},{"T":330,"f":223900,"e":67},{"T":330,"f":251200,"e":65.7},{"T":330,"f":281800,"e":64.4},{"T":330,"f":316200,"e":63.2},{"T":330,"f":354800,"e":62},{"T":330,"f":398100,"e":60.9},{"T":330,"f":446700,"e":59.8},{"T":330,"f":501200,"e":58.8},{"T":330,"f":562300,"e":57.8},{"T":330,"f":631000,"e":56.9},{"T":330,"f":707900,"e":56},{"T":330,"f":794300,"e":55.2},{"T":330,"f":891300,"e":54.4},{"T":330,"f":1000000,"e":53.7}
]},
"mark": {"type": "point", "filled": true, "clip": true, "opacity": 1},
"encoding": {
"x": {"field": "f", "type": "quantitative", "scale": {"type": "log", "domain": [100, 1000000]},
 "axis": {"orient": "bottom", "values": [100,200,300,400,500,600,700,800,900,1000,2000,3000,4000,5000,6000,7000,8000,9000,10000,20000,30000,40000,50000,60000,70000,80000,90000,100000,200000,300000,400000,500000,600000,700000,800000,900000,1000000],
  "labelExpr": "indexof([100,1000,10000,100000,1000000], datum.value) >= 0 ? '10' : ''",
  "labelFont": "Liberation Sans", "labelFontSize": 66, "labelColor": "black", "labelPadding": 60, "labelOffset": -10, "labelFlush": false, "labelOverlap": false, "labelBound": false,
  "tickSize": {"condition": {"test": "indexof([100,1000,10000,100000,1000000], datum.value) >= 0", "value": -20}, "value": -12},
  "tickWidth": 4, "tickColor": "black", "domainColor": "black", "domainWidth": 4,
  "title": "Frequency (Hz)", "titleFont": "Liberation Sans", "titleFontSize": 66, "titleFontWeight": "normal", "titleColor": "black", "titleX": 850, "titleY": 160, "titleAlign": "center", "titleBaseline": "alphabetic"}},
"y": {"field": "e", "type": "quantitative", "scale": {"domain": [40, 270], "nice": false, "zero": false},
 "axis": {"orient": "left", "values": [50,60,70,80,90,100,110,120,130,140,150,160,170,180,190,200,210,220,230,240,250,260],
  "labelExpr": "datum.value % 50 == 0 ? datum.label : ''",
  "labelFont": "Liberation Sans", "labelFontSize": 66, "labelColor": "black", "labelPadding": 40, "labelFlush": false, "labelOverlap": false, "labelBound": false,
  "tickSize": {"condition": {"test": "datum.value % 50 == 0", "value": -20}, "value": -12},
  "tickWidth": 4, "tickColor": "black", "domainColor": "black", "domainWidth": 4,
  "title": "ε'", "titleFont": "Liberation Sans", "titleFontSize": 62, "titleFontWeight": "normal", "titleColor": "black", "titleAngle": 0, "titleX": -214, "titleY": 711, "titleAlign": "left", "titleBaseline": "alphabetic"}},
"shape": {"field": "T", "type": "nominal", "legend": null, "scale": {"domain": [200,210,220,230,240,250,260,270,280,290,300,310,320,330], "range": [
 "circle",
 "M0,-0.95V0.95M-0.95,0H0.95M-0.62,-0.62L-0.36,-0.36M0.62,-0.62L0.36,-0.36M-0.62,0.62L-0.36,0.36M0.62,0.62L0.36,0.36",
 "M-0.9,-0.9H0.9V0.9H-0.9Z",
 "M0,-0.9L0.26,-0.45L0.78,-0.45L0.52,0L0.78,0.45L0.26,0.45L0,0.9L-0.26,0.45L-0.78,0.45L-0.52,0L-0.78,-0.45L-0.26,-0.45Z",
 "M0,-1.15L0.9,0L0,1.15L-0.9,0Z",
 "M-1,-0.8L1,-0.8L0,0.95Z",
 "M0,-1L0.247,-0.34L0.951,-0.309L0.399,0.13L0.588,0.809L0,0.42L-0.588,0.809L-0.399,0.13L-0.951,-0.309L-0.247,-0.34Z",
 "M-0.85,-1L0.95,0L-0.85,1Z",
 "M0,-0.9L1.05,0.85L-1.05,0.85Z",
 "circle",
 "M0,-0.95V0.95M-0.95,0H0.95M-0.62,-0.62L-0.36,-0.36M0.62,-0.62L0.36,-0.36M-0.62,0.62L-0.36,0.36M0.62,0.62L0.36,0.36",
 "M-0.9,-0.9H0.9V0.9H-0.9Z",
 "M0,-0.9L0.26,-0.45L0.78,-0.45L0.52,0L0.78,0.45L0.26,0.45L0,0.9L-0.26,0.45L-0.78,0.45L-0.52,0L-0.78,-0.45L-0.26,-0.45Z",
 "M0,-1.15L0.9,0L0,1.15L-0.9,0Z"]}},
"fill": {"field": "T", "type": "nominal", "legend": null, "scale": {"domain": [200,210,220,230,240,250,260,270,280,290,300,310,320,330], "range": ["#0072BD","#F9560B","#FFB000","#8E2C8E","#58AC18","#BE0E2E","#00BDF0","#0072BD","#F9560B","#FFB000","#8E2C8E","#58AC18","#BE0E2E","#00BDF0"]}},
"stroke": {"field": "T", "type": "nominal", "legend": null, "scale": {"domain": [200,210,220,230,240,250,260,270,280,290,300,310,320,330], "range": ["#0072BD","#F9560B","#FFB000","#8E2C8E","#58AC18","#BE0E2E","#00BDF0","#0072BD","#F9560B","#FFB000","#8E2C8E","#58AC18","#BE0E2E","#00BDF0"]}},
"strokeWidth": {"condition": {"test": "datum.T == 210 || datum.T == 300", "value": 4.5}, "value": 0},
"size": {"field": "T", "type": "ordinal", "legend": null, "scale": {"domain": [200,210,220,230,240,250,260,270,280,290,300,310,320,330], "range": [880,1250,1250,1250,1250,1250,1250,1250,1250,880,1250,1250,1250,1250]}}
}
},
{
"data": {"values": [{"f": 168.7, "e": 61.6, "f2": 5395, "e2": 152.2}]},
"mark": {"type": "rule", "color": "#555555", "strokeWidth": 5},
"encoding": {
"x": {"field": "f", "type": "quantitative", "scale": {"type": "log", "domain": [100, 1000000]},
 "axis": {"orient": "top", "values": [100,200,300,400,500,600,700,800,900,1000,2000,3000,4000,5000,6000,7000,8000,9000,10000,20000,30000,40000,50000,60000,70000,80000,90000,100000,200000,300000,400000,500000,600000,700000,800000,900000,1000000],
  "labels": false, "title": null,
  "tickSize": {"condition": {"test": "indexof([100,1000,10000,100000,1000000], datum.value) >= 0", "value": -20}, "value": -12},
  "tickWidth": 4, "tickColor": "black", "domainColor": "black", "domainWidth": 4}},
"y": {"field": "e", "type": "quantitative", "scale": {"domain": [40, 270], "nice": false, "zero": false},
 "axis": {"orient": "right", "values": [50,60,70,80,90,100,110,120,130,140,150,160,170,180,190,200,210,220,230,240,250,260],
  "labels": false, "title": null,
  "tickSize": {"condition": {"test": "datum.value % 50 == 0", "value": -20}, "value": -12},
  "tickWidth": 4, "tickColor": "black", "domainColor": "black", "domainWidth": 4}},
"x2": {"field": "f2"},
"y2": {"field": "e2"}
}
},
{
"data": {"values": [{"f2": 5395, "e2": 152.2}]},
"mark": {"type": "point", "filled": true, "opacity": 1, "color": "#555555", "shape": "M0,0L0.7,2L0,1.7L-0.7,2Z", "size": 2500, "angle": 50.6},
"encoding": {
"x": {"field": "f2", "type": "quantitative", "scale": {"type": "log", "domain": [100, 1000000]}, "axis": null},
"y": {"field": "e2", "type": "quantitative", "scale": {"domain": [40, 270], "nice": false, "zero": false}, "axis": null}
}
},
{
"data": {"values": [{"f": 4150, "e": 156.5, "t": "330 K"}, {"f": 132, "e": 49.6, "t": "200 K"}, {"f": 430000, "e": 252.3, "t": "(a)"}]},
"mark": {"type": "text", "align": "left", "baseline": "alphabetic", "font": "Liberation Sans", "fontSize": 66, "color": "black"},
"encoding": {
"x": {"field": "f", "type": "quantitative", "scale": {"type": "log", "domain": [100, 1000000]}, "axis": null},
"y": {"field": "e", "type": "quantitative", "scale": {"domain": [40, 270], "nice": false, "zero": false}, "axis": null},
"text": {"field": "t"}
}
},
{
"data": {"values": [{"f": 100, "p": "2"}, {"f": 1000, "p": "3"}, {"f": 10000, "p": "4"}, {"f": 100000, "p": "5"}, {"f": 1000000, "p": "6"}]},
"mark": {"type": "text", "align": "left", "baseline": "alphabetic", "dx": 27, "dy": 51, "font": "Liberation Sans", "fontSize": 38, "color": "black"},
"encoding": {
"x": {"field": "f", "type": "quantitative", "scale": {"type": "log", "domain": [100, 1000000]}, "axis": null},
"y": {"datum": 40, "type": "quantitative", "scale": {"domain": [40, 270], "nice": false, "zero": false}, "axis": null},
"text": {"field": "p"}
}
}
]
}
